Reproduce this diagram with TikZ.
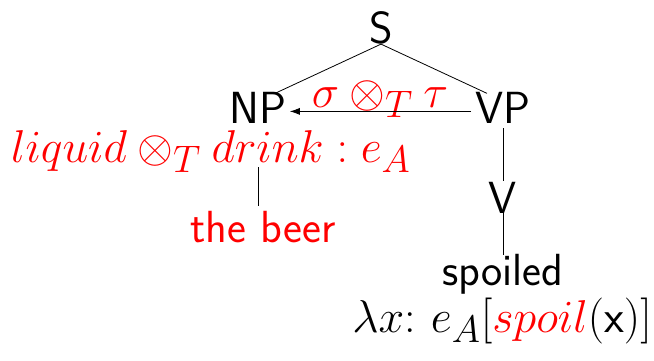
\documentclass[tikz,border=0pt]{standalone}
\usetikzlibrary{calc,arrows.meta}
\newcommand{\mscale}[1]{\scalebox{0.925}{#1}}
\begin{document}
\begin{tikzpicture}[x=0.5pt,y=-0.5pt,
  lab/.style={font=\sffamily\fontsize{22.5}{27}\selectfont, inner sep=0pt, anchor=base},
  mlab/.style={font=\fontsize{24.88}{30}\selectfont, inner sep=0pt, anchor=base},
  edge/.style={draw=black, line width=0.4pt}]
\useasboundingbox (0,0) rectangle (654,360);
\node[lab] (S) at (381,43) {S};
\node[lab] (NP) at (258,123) {NP};
\node[lab] (VP) at (503,123) {VP};
\node[mlab, red] (sem) at (211,162) {\mscale{$liquid\otimes_T drink : e_A$}};
\node[lab, red] (beer) at (263,242) {the beer};
\node[lab] (V) at (503,213) {V};
\node[lab] (spoiled) at (503,285) {spoiled};
\node[mlab] (lam) at (502,332) {\mscale{$\lambda x\colon\, e_A[\textcolor{red}{spoil}(\textsf{x})]$}};
\node[mlab, red] (op) at (380,107) {\mscale{$\sigma\otimes_T\tau$}};
\draw[edge] (S.south) -- ($(NP.north)+(17,2)$);
\draw[edge] (S.south) -- ($(VP.north)+(-16,2)$);
\draw[edge, -{Latex[length=5pt,width=3.5pt]}] ($(VP.west)+(-4,4)$) -- ($(NP.east)+(3,4)$);
\draw[edge] ($(NP.south |- sem.base)+(0,5)$) -- ($(NP.south |- beer.north)+(0,-4)$);
\draw[edge] ($(VP.south)+(0,5)$) -- (V.north);
\draw[edge] (V.south) -- ($(spoiled.north)+(0,2)$);
\end{tikzpicture}
\end{document}
